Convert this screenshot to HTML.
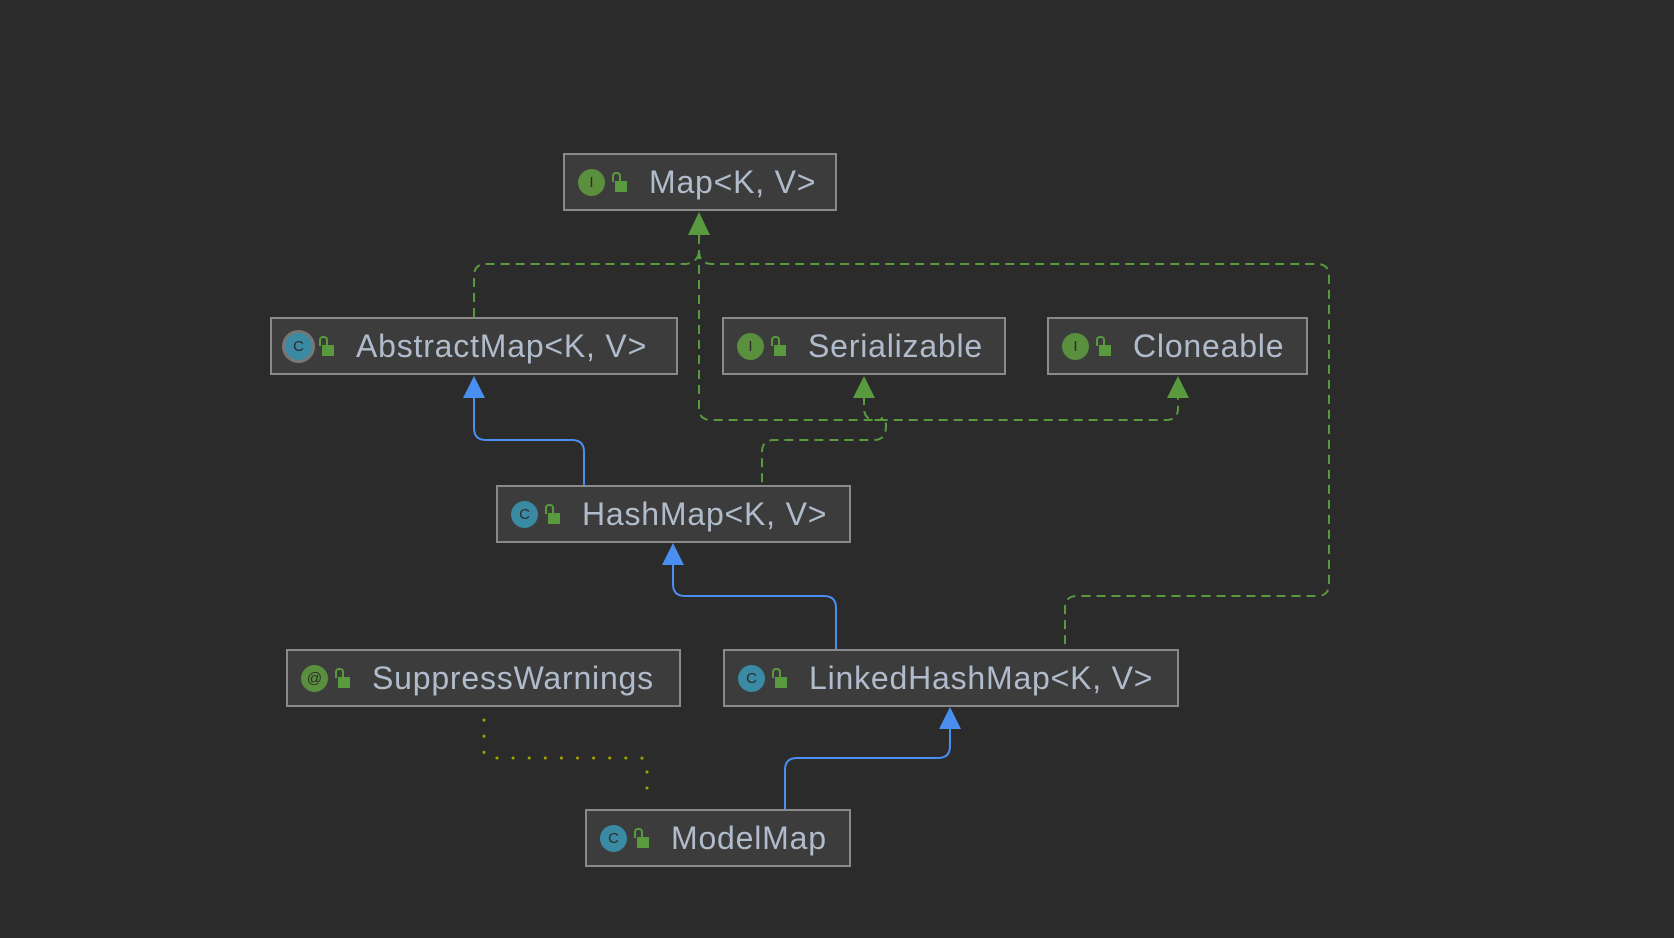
<!DOCTYPE html>
<html><head><style>
body{margin:0;background:#2b2b2b;width:1674px;height:938px;overflow:hidden;position:relative;font-family:"Liberation Sans",sans-serif}
.b{position:absolute;box-sizing:border-box;background:#3c3c3c;border:2px solid #8a8a8a;color:#b0bccb;font-size:32px;letter-spacing:0.8px;display:flex;align-items:center}
.ic{width:27px;height:27px;border-radius:50%;margin-left:13px;display:flex;align-items:center;justify-content:center;font-size:15px;color:#2b2b2b;flex:none;letter-spacing:0}
.g{background:#5a8f3e}.c{background:#3a8aa3}
.lk{width:12px;height:11px;background:#5a9a3e;margin-left:10px;margin-top:8px;position:relative;flex:none}
.lk:before{content:"";position:absolute;left:-3px;top:-9px;width:5px;height:8px;border:2px solid #5a9a3e;border-bottom:none;border-radius:4px 4px 0 0}
.t{margin-left:22px;white-space:nowrap}
svg{position:absolute;left:0;top:0}
</style></head><body>
<svg width="1674" height="938">
<g fill="none" stroke="#5a9a3e" stroke-width="2" stroke-dasharray="9,6">
<path d="M474 317 V276 Q474 264 486 264 H686 Q699 262 699 250"/>
<path d="M699 250 Q699 264 712 264 H1317 Q1329 264 1329 276 V584 Q1329 596 1317 596 H1077 Q1065 596 1065 608 V649"/>
<path d="M699 235 V408 Q699 420 711 420 H1166 Q1178 420 1178 408 V396"/>
<path d="M864 396 V408 Q864 420 876 420 H880 Q886 414 886 426 Q886 440 874 440 H774 Q762 440 762 452 V485"/>
</g>
<g fill="#5a9a3e"><path d="M699 212 L688 235 L710 235Z"/><path d="M864 376 L853 398 L875 398Z"/><path d="M1178 376 L1167 398 L1189 398Z"/></g>
<g fill="none" stroke="#4a8ef0" stroke-width="2">
<path d="M474 396 V428 Q474 440 486 440 H572 Q584 440 584 452 V485"/>
<path d="M673 563 V584 Q673 596 685 596 H824 Q836 596 836 608 V649"/>
<path d="M950 727 V746 Q950 758 938 758 H797 Q785 758 785 770 V809"/>
</g>
<g fill="#4a8ef0"><path d="M474 376 L463 398 L485 398Z"/><path d="M673 543 L662 565 L684 565Z"/><path d="M950 707 L939 729 L961 729Z"/></g>
<path d="M484 720 V752 Q484 758 492 758 H640 Q647 758 647 766 V798" fill="none" stroke="#a0a000" stroke-width="3" stroke-dasharray="0.1,16" stroke-linecap="round"/>
</svg>
<div class="b" style="left:563px;top:153px;width:274px;height:58px"><div class="ic g">I</div><div class="lk"></div><div class="t">Map&lt;K, V&gt;</div></div>
<div class="b" style="left:270px;top:317px;width:408px;height:58px"><div class="ic c" style="box-shadow:0 0 0 3px #777">C</div><div class="lk"></div><div class="t">AbstractMap&lt;K, V&gt;</div></div>
<div class="b" style="left:722px;top:317px;width:284px;height:58px"><div class="ic g">I</div><div class="lk"></div><div class="t">Serializable</div></div>
<div class="b" style="left:1047px;top:317px;width:261px;height:58px"><div class="ic g">I</div><div class="lk"></div><div class="t">Cloneable</div></div>
<div class="b" style="left:496px;top:485px;width:355px;height:58px"><div class="ic c">C</div><div class="lk"></div><div class="t">HashMap&lt;K, V&gt;</div></div>
<div class="b" style="left:286px;top:649px;width:395px;height:58px"><div class="ic g">@</div><div class="lk"></div><div class="t">SuppressWarnings</div></div>
<div class="b" style="left:723px;top:649px;width:456px;height:58px"><div class="ic c">C</div><div class="lk"></div><div class="t">LinkedHashMap&lt;K, V&gt;</div></div>
<div class="b" style="left:585px;top:809px;width:266px;height:58px"><div class="ic c">C</div><div class="lk"></div><div class="t">ModelMap</div></div>
</body></html>
